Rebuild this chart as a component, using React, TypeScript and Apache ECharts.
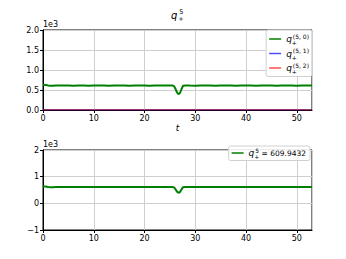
import React, { useEffect, useRef } from "react";
import * as echarts from "echarts";

const times = [
  0, 0.5, 1, 1.5, 2, 2.5, 3, 4, 5, 6, 7, 8, 9, 10, 11, 12, 13, 14, 15, 16, 17, 18, 19, 20,
  21, 22, 23, 24, 25, 25.5, 25.8, 26.1, 26.4, 26.7, 27.0, 27.3, 27.6, 28, 29, 30, 31, 32,
  33, 34, 35, 36, 37, 38, 39, 40, 41, 42, 43, 44, 45, 46, 47, 48, 49, 50, 51, 52, 53,
];
const q50 = [
  632, 628, 614, 605, 607, 614, 613, 610, 612, 608, 611, 613, 609, 611, 610, 612, 608, 611,
  610, 613, 609, 611, 610, 612, 609, 611, 610, 612, 614, 615, 598, 530, 440, 395, 425, 525,
  605, 614, 611, 609, 612, 610, 611, 609, 612, 610, 611, 609, 612, 610, 611, 609, 611, 610,
  612, 609, 611, 610, 612, 609, 611, 610, 611,
];
const q51Times = [0, 53];
const q51 = [0, 0];
const q52Times = [0, 53];
const q52 = [0, 0];
const meanLabel = "609.9432";

const xTicksInterval = 10;

const base = { fontFamily: "DejaVu Sans", fontWeight: "normal", color: "#000", verticalAlign: "middle", align: "left" };
const rich = {
  q: { ...base, fontStyle: "italic", fontSize: 9, lineHeight: 14 },
  sb: { ...base, fontSize: 6, width: 0.01, padding: [7, 0, 0, 0] },
  sp: { ...base, fontSize: 6, padding: [0, 0, 6, 1] },
  t: { ...base, fontSize: 7.5 },
};
const titleRich = {
  q: { ...base, fontStyle: "italic", fontSize: 10, lineHeight: 16 },
  sb: { ...base, fontSize: 6.5, width: 0.01, padding: [8, 0, 0, 1] },
  sp: { ...base, fontSize: 6.5, padding: [0, 0, 7, 1] },
};

function legendName(name: string) {
  if (name === "mean") return `{q|q}{sb|+}{sp|5}{t| = ${meanLabel}}`;
  const idx = name.split("_")[1];
  return `{q|q}{sb|+}{sp|(5, ${idx})}`;
}

function pairs(xs: number[], ys: number[]) {
  return xs.map((x, i) => [x, ys[i]]);
}

export default function App() {
  const ref = useRef<HTMLDivElement>(null);
  useEffect(() => {
    if (!ref.current) return;
    const chart = echarts.init(ref.current, undefined, { renderer: "svg" });
    const axisLabel = { fontFamily: "DejaVu Sans", fontSize: 8, color: "#000", margin: 4 };
    const split = { show: true, lineStyle: { color: "#cfcfcf", width: 1 } };
    const xAxisBase = {
      type: "value",
      min: 0,
      max: 53,
      interval: xTicksInterval,
      axisLine: { show: true, onZero: false, lineStyle: { color: "#000", width: 1 } },
      axisTick: { show: true, length: 3, lineStyle: { color: "#000" } },
      axisLabel: { ...axisLabel, showMaxLabel: false, formatter: (v: number) => (v % 10 === 0 ? String(v) : "") },
      splitLine: split,
    };
    const legendBase = {
      orient: "vertical",
      icon: "rect",
      itemWidth: 12,
      itemHeight: 1.5,
      backgroundColor: "rgba(255,255,255,0.85)",
      borderColor: "#d0d0d0",
      borderWidth: 1,
      borderRadius: 2,
      formatter: legendName,
      textStyle: { rich },
    };
    chart.setOption({
      animation: false,
      title: {
        text: "{q|q}{sb|+}{sp|5}",
        left: 166,
        top: 2,
        textStyle: { fontWeight: "normal", rich: titleRich },
      },
      grid: [
        { left: 43, top: 30, width: 269, height: 80, show: true, borderColor: "#000", borderWidth: 1, backgroundColor: "transparent" },
        { left: 43, top: 150, width: 269, height: 80, show: true, borderColor: "#000", borderWidth: 1, backgroundColor: "transparent" },
      ],
      xAxis: [
        {
          ...xAxisBase,
          gridIndex: 0,
          name: "t",
          nameLocation: "middle",
          nameGap: 13,
          nameTextStyle: { fontFamily: "DejaVu Sans", fontStyle: "italic", fontSize: 9, color: "#000" },
        },
        { ...xAxisBase, gridIndex: 1 },
      ],
      yAxis: [
        {
          type: "value",
          gridIndex: 0,
          min: 0,
          max: 2000,
          interval: 500,
          axisLine: { show: true, lineStyle: { color: "#000" } },
          axisTick: { show: true, length: 3, lineStyle: { color: "#000" } },
          axisLabel: { ...axisLabel, formatter: (v: number) => (v / 1000).toFixed(1) },
          splitLine: split,
        },
        {
          type: "value",
          gridIndex: 1,
          min: -1000,
          max: 2000,
          interval: 1000,
          axisLine: { show: true, onZero: false, lineStyle: { color: "#000" } },
          axisTick: { show: true, length: 3, lineStyle: { color: "#000" } },
          axisLabel: { ...axisLabel, formatter: (v: number) => String(v / 1000).replace("-", "\u2212") },
          splitLine: split,
        },
      ],
      legend: [
        { ...legendBase, data: ["q_0", "q_1", "q_2"], top: 30, right: 34, itemGap: 2, padding: [3, 3, 2, 3] },
        { ...legendBase, data: ["mean"], top: 146, right: 36, padding: [1, 4, 1, 3] },
      ],
      graphic: [
        { type: "text", left: 43, top: 20, style: { text: "1e3", fontFamily: "DejaVu Sans", fontSize: 8, fill: "#000" } },
        { type: "text", left: 43, top: 140, style: { text: "1e3", fontFamily: "DejaVu Sans", fontSize: 8, fill: "#000" } },
      ],
      series: [
        {
          name: "q_0",
          type: "line",
          xAxisIndex: 0,
          yAxisIndex: 0,
          data: pairs(times, q50),
          showSymbol: false,
          lineStyle: { color: "#008000", width: 2 },
          itemStyle: { color: "#008000" },
          z: 3,
        },
        {
          name: "q_1",
          type: "line",
          xAxisIndex: 0,
          yAxisIndex: 0,
          data: pairs(q51Times, q51),
          showSymbol: false,
          lineStyle: { color: "rgba(0,0,255,0.7)", width: 1 },
          itemStyle: { color: "rgba(0,0,255,0.7)" },
          z: 4,
        },
        {
          name: "q_2",
          type: "line",
          xAxisIndex: 0,
          yAxisIndex: 0,
          data: pairs(q52Times, q52),
          showSymbol: false,
          lineStyle: { color: "rgba(255,0,0,0.7)", width: 1 },
          itemStyle: { color: "rgba(255,0,0,0.7)" },
          z: 5,
        },
        {
          name: "mean",
          type: "line",
          xAxisIndex: 1,
          yAxisIndex: 1,
          data: pairs(times, q50),
          showSymbol: false,
          lineStyle: { color: "#008000", width: 2 },
          itemStyle: { color: "#008000" },
          z: 3,
        },
      ],
    });
    return () => chart.dispose();
  }, []);
  return (
    <div
      ref={ref}
      style={{ position: "fixed", left: 0, top: 0, width: 346, height: 259, background: "#fff" }}
    />
  );
}
